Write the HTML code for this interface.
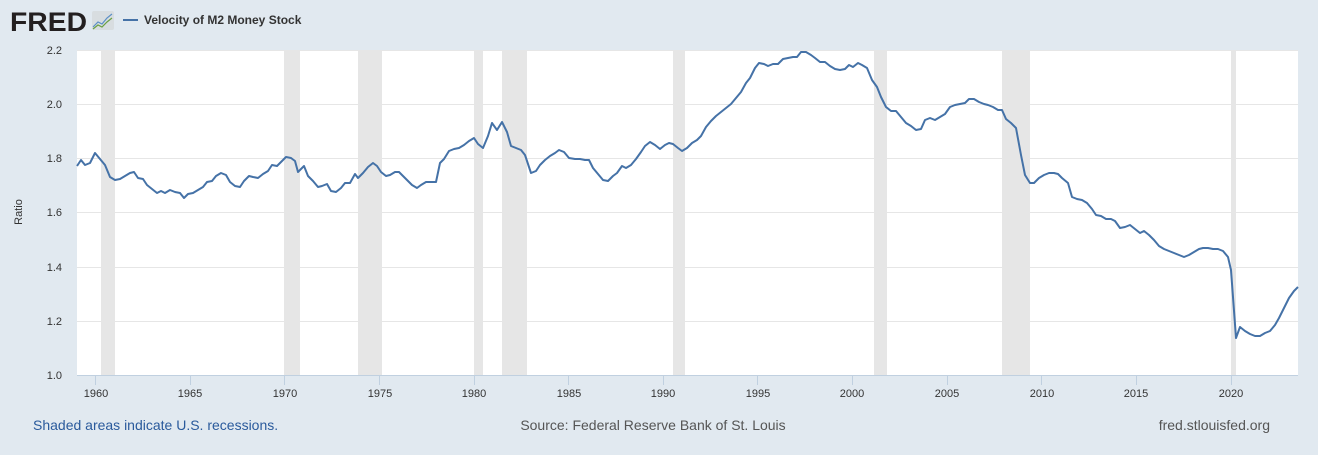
<!DOCTYPE html>
<html><head><meta charset="utf-8"><style>
html,body{margin:0;padding:0;background:#e1e9f0;}
body{width:1318px;height:450px;overflow:hidden;font-family:"Liberation Sans",Arial,sans-serif;}
</style></head><body>
<svg width="1318" height="450" xmlns="http://www.w3.org/2000/svg" font-family="Liberation Sans, Arial, sans-serif">
<rect width="1318" height="450" fill="#e1e9f0"/>
<text x="10" y="31" font-size="27" font-weight="bold" fill="#231f20" textLength="77" lengthAdjust="spacingAndGlyphs">FRED</text>
<rect x="92" y="11" width="22" height="19" rx="2" fill="#d8dde0"/>
<polyline points="93,27 98,22 102,24 107,18 112,14" fill="none" stroke="#5b8fc6" stroke-width="1.2"/>
<polyline points="93,29 98,25 102,27 107,22 112,18" fill="none" stroke="#6aa043" stroke-width="1.2"/>
<line x1="123" y1="20" x2="138" y2="20" stroke="#4572a7" stroke-width="2"/>
<text x="144" y="24" font-size="12" font-weight="bold" fill="#333">Velocity of M2 Money Stock</text>
<rect x="77" y="50" width="1221" height="325" fill="#fff"/>
<g fill="#e6e6e6">
<rect x="101" y="50" width="14" height="325"/><rect x="284" y="50" width="16" height="325"/>
<rect x="358" y="50" width="24" height="325"/><rect x="474" y="50" width="9" height="325"/>
<rect x="502" y="50" width="25" height="325"/><rect x="673" y="50" width="12" height="325"/>
<rect x="874" y="50" width="13" height="325"/><rect x="1002" y="50" width="28" height="325"/>
<rect x="1231" y="50" width="5" height="325"/>
</g>
<g stroke="#e6e6e6" stroke-width="1">
<line x1="77" x2="1298" y1="50.5" y2="50.5"/><line x1="77" x2="1298" y1="104.5" y2="104.5"/>
<line x1="77" x2="1298" y1="158.5" y2="158.5"/><line x1="77" x2="1298" y1="212.5" y2="212.5"/>
<line x1="77" x2="1298" y1="267.5" y2="267.5"/><line x1="77" x2="1298" y1="321.5" y2="321.5"/>
</g>
<line x1="77" x2="1298" y1="375.5" y2="375.5" stroke="#c0d0e0"/>
<g font-size="11" fill="#333" text-anchor="end">
<text x="62" y="54">2.2</text><text x="62" y="108">2.0</text><text x="62" y="162">1.8</text>
<text x="62" y="216">1.6</text><text x="62" y="271">1.4</text><text x="62" y="325">1.2</text><text x="62" y="379">1.0</text>
</g>
<text transform="translate(22,212) rotate(-90)" font-size="11" fill="#333" text-anchor="middle">Ratio</text>
<g stroke="#c0d0e0"><line x1="95.5" x2="95.5" y1="375" y2="385"/><line x1="190.5" x2="190.5" y1="375" y2="385"/><line x1="284.5" x2="284.5" y1="375" y2="385"/><line x1="379.5" x2="379.5" y1="375" y2="385"/><line x1="474.5" x2="474.5" y1="375" y2="385"/><line x1="568.5" x2="568.5" y1="375" y2="385"/><line x1="663.5" x2="663.5" y1="375" y2="385"/><line x1="757.5" x2="757.5" y1="375" y2="385"/><line x1="852.5" x2="852.5" y1="375" y2="385"/><line x1="947.5" x2="947.5" y1="375" y2="385"/><line x1="1041.5" x2="1041.5" y1="375" y2="385"/><line x1="1136.5" x2="1136.5" y1="375" y2="385"/><line x1="1231.5" x2="1231.5" y1="375" y2="385"/></g>
<g font-size="11" fill="#333" text-anchor="middle">
<text x="96" y="397">1960</text><text x="190" y="397">1965</text><text x="285" y="397">1970</text><text x="380" y="397">1975</text><text x="474" y="397">1980</text><text x="569" y="397">1985</text><text x="663" y="397">1990</text><text x="758" y="397">1995</text><text x="852" y="397">2000</text><text x="947" y="397">2005</text><text x="1042" y="397">2010</text><text x="1136" y="397">2015</text><text x="1231" y="397">2020</text>
</g>
<polyline fill="none" stroke="#4572a7" stroke-width="2" stroke-linejoin="round" points="77,166 81,160 85,165 90,163 95,153 100,159 105,165 110,177 115,180 120,179 125,176 130,173 134,172 138,178 143,179 147,185 152,189 157,193 161,191 165,193 170,190 175,192 180,193 184,198 188,194 193,193 198,190 203,187 207,182 212,181 216,176 221,173 226,175 230,182 235,186 240,187 244,181 249,176 253,177 258,178 263,174 268,171 272,165 277,166 281,162 286,157 291,158 295,161 298,172 304,166 308,176 313,181 318,187 322,186 327,184 331,191 336,192 341,188 345,183 350,183 355,174 358,178 363,173 368,167 373,163 377,166 381,172 386,176 390,175 395,172 399,172 404,177 408,181 412,185 417,188 421,185 426,182 431,182 436,182 440,163 444,159 449,151 454,149 459,148 464,145 469,141 474,138 478,144 483,148 488,136 492,123 497,130 502,122 507,132 511,146 516,148 521,150 525,155 531,173 536,171 540,165 545,160 550,156 555,153 559,150 564,152 569,158 575,159 580,159 585,160 589,160 593,168 598,174 603,180 608,181 613,176 617,173 622,166 626,168 631,165 636,159 641,152 645,146 650,142 655,145 660,149 665,145 669,143 673,144 678,148 682,151 687,148 692,143 697,140 701,136 706,127 711,121 716,116 721,112 726,108 731,104 736,98 741,92 746,83 750,78 755,68 759,63 764,64 768,66 773,64 778,64 783,59 788,58 793,57 797,57 801,52 806,52 811,55 815,58 820,62 825,62 830,66 835,69 840,70 845,69 849,65 853,67 858,63 862,65 867,68 872,80 877,87 881,97 886,107 891,111 896,111 901,117 906,123 911,126 916,130 921,129 925,120 930,118 935,120 940,117 945,114 950,107 955,105 960,104 965,103 969,99 974,99 979,102 984,104 988,105 993,107 998,110 1002,110 1006,119 1011,123 1016,128 1021,155 1025,175 1030,183 1034,183 1039,178 1044,175 1049,173 1054,173 1058,174 1062,178 1068,183 1072,197 1077,199 1082,200 1087,203 1092,209 1096,215 1101,216 1106,219 1111,219 1115,221 1120,228 1125,227 1130,225 1135,229 1140,233 1144,231 1149,235 1154,240 1159,246 1164,249 1169,251 1174,253 1179,255 1184,257 1189,255 1194,252 1199,249 1203,248 1208,248 1213,249 1218,249 1223,251 1228,257 1231,270 1236,338 1240,327 1245,331 1250,334 1255,336 1260,336 1265,333 1270,331 1275,325 1279,318 1284,308 1289,298 1294,291 1298,287"/>
<text x="33" y="430" font-size="14" fill="#2a5a9c">Shaded areas indicate U.S. recessions.</text>
<text x="653" y="430" font-size="14" fill="#555" text-anchor="middle">Source: Federal Reserve Bank of St. Louis</text>
<text x="1270" y="430" font-size="14" fill="#555" text-anchor="end">fred.stlouisfed.org</text>
</svg>
</body></html>
